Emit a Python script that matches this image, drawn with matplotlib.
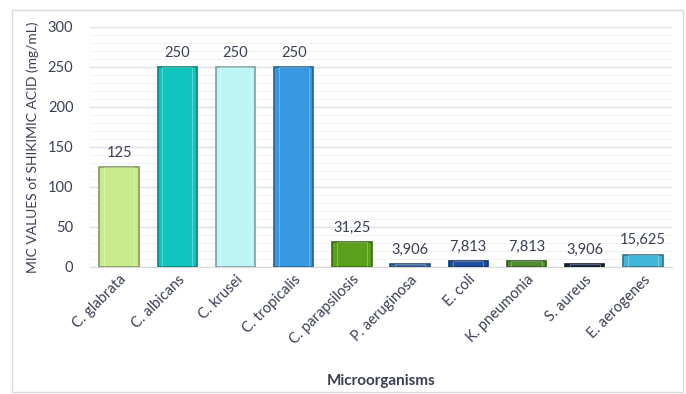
import matplotlib.pyplot as plt
import matplotlib.colors as mcolors
import numpy as np

organisms = ["C. glabrata", "C. albicans", "C. krusei", "C. tropicalis", "C. parapsilosis",
             "P. aeruginosa", "E. coli", "K. pneumonia", "S. aureus", "E. aerogenes"]
mic = [125, 250, 250, 250, 31.25, 3.906, 7.813, 7.813, 3.906, 15.625]
mic_text = ["125", "250", "250", "250", "31,25", "3,906", "7,813", "7,813", "3,906", "15,625"]
colors = ["#c8ec8c", "#10c4bf", "#bcf6f4", "#3898e2", "#5aa01a",
          "#3f70b2", "#1d50a0", "#4f8c2c", "#1a2c48", "#40b6d8"]

plt.rcParams['font.family'] = ['Lato', 'DejaVu Sans']
txt = "#3a3f55"

fig = plt.figure(figsize=(6.86, 3.94), dpi=100)
# light frame around the chart
fig.patches.append(plt.Rectangle((12/686, 1-392/394), 671/686, 382/394, transform=fig.transFigure,
                                 fill=False, edgecolor="#d9d9d9", linewidth=1))
ax = fig.add_axes([90/686, 1-267/394, 582/686, 240/394])

x = np.arange(len(organisms))
edges = [mcolors.to_hex(np.array(mcolors.to_rgb(c)) * 0.65) for c in colors]
bars = ax.bar(x, mic, width=0.68, color=colors, edgecolor=edges, linewidth=1.2, zorder=3)
# faint inner highlight to hint at the bevel
ax.bar(x, mic, width=0.52, color="none", edgecolor="white", linewidth=0.6, alpha=0.35, zorder=4)

for xi, v, t in zip(x, mic, mic_text):
    ax.text(xi, v + 9, t, ha="center", va="bottom", fontsize=10.5, color=txt)

ax.set_ylim(0, 300)
ax.set_xlim(-0.5, len(organisms) - 0.5)
ax.set_yticks(np.arange(0, 301, 50))
ax.set_yticks(np.arange(0, 301, 10), minor=True)
ax.grid(axis="y", which="major", color="#e0e0e6", linewidth=1, zorder=0)
ax.grid(axis="y", which="minor", color="#f2f2f5", linewidth=0.8, zorder=0)
ax.tick_params(axis="y", which="both", length=0, labelsize=10.5, labelcolor=txt, pad=12)
ax.tick_params(axis="x", length=0, labelsize=10.5, labelcolor=txt, pad=4)
ax.set_xticks(x)
ax.set_xticklabels(organisms, rotation=45, ha="right", rotation_mode="anchor")
for s in ["top", "right", "left"]:
    ax.spines[s].set_visible(False)
ax.spines["bottom"].set_color("#d9d9d9")

ax.set_ylabel("MIC VALUES of SHIKIMIC ACID (mg/mL)", fontsize=10, color=txt, labelpad=6)
fig.text(381/686, 1-381/394, "Microorganisms", ha="center", va="center",
         fontsize=11, fontweight="bold", color=txt)

fig.savefig("out.png", dpi=100)
